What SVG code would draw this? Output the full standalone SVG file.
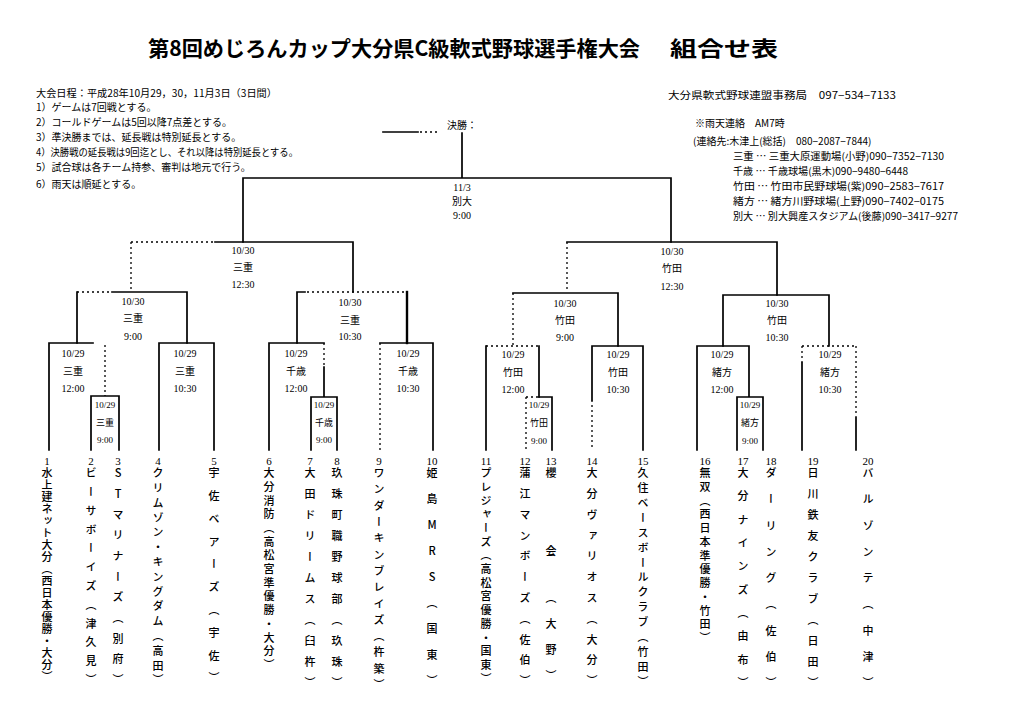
<svg xmlns="http://www.w3.org/2000/svg" width="1024" height="724" viewBox="0 0 1024 724">
<style>
.bg{fill:#fff}
.ln{stroke:#000;stroke-width:1.7;fill:none;stroke-linecap:square}
.dt{stroke:#000;stroke-width:1.3;fill:none;stroke-dasharray:2 3}
.lb{font-family:"Liberation Serif","Noto Sans CJK JP",serif;font-size:10px;text-anchor:middle;fill:#000}
.sm{font-size:9px}
.tm{font-family:"Noto Sans CJK JP",sans-serif;font-size:11px;font-weight:500;writing-mode:vertical-rl;text-orientation:upright;fill:#000}
.num{font-family:"Liberation Serif",serif;font-size:11px;text-anchor:middle;fill:#000}
.note{font-family:"Noto Sans CJK JP",sans-serif;font-size:10px;fill:#000}
.title{font-family:"Noto Sans CJK JP",sans-serif;font-size:21px;font-weight:700;fill:#000}
</style>
<rect class="bg" x="0" y="0" width="1024" height="724"/>

<g id="title">
<text class="title" x="148" y="56" textLength="492" lengthAdjust="spacingAndGlyphs">第8回めじろんカップ大分県C級軟式野球選手権大会</text>
<text class="title" x="670" y="56" textLength="108" lengthAdjust="spacingAndGlyphs">組合せ表</text>
</g>

<g id="notes">
<text class="note" x="36" y="97" textLength="241" lengthAdjust="spacingAndGlyphs">大会日程：平成28年10月29，30，11月3日（3日間）</text>
<text class="note" x="36" y="111">1）ゲームは7回戦とする。</text>
<text class="note" x="36" y="126">2）コールドゲームは5回以降7点差とする。</text>
<text class="note" x="36" y="141">3）準決勝までは、延長戦は特別延長とする。</text>
<text class="note" x="36" y="156" textLength="262" lengthAdjust="spacingAndGlyphs">4）決勝戦の延長戦は9回迄とし、それ以降は特別延長とする。</text>
<text class="note" x="36" y="171">5）試合球は各チーム持参、審判は地元で行う。</text>
<text class="note" x="36" y="188">6）雨天は順延とする。</text>
</g>

<g id="contacts">
<text class="note" x="668" y="99" textLength="228" lengthAdjust="spacingAndGlyphs">大分県軟式野球連盟事務局　097−534−7133</text>
<text class="note" x="695" y="127">※雨天連絡　AM7時</text>
<text class="note" x="693" y="145">(連絡先:木津上(総括)　080−2087−7844)</text>
<text class="note" x="733" y="160" textLength="211" lengthAdjust="spacingAndGlyphs">三重 … 三重大原運動場(小野)090−7352−7130</text>
<text class="note" x="733" y="175" textLength="175" lengthAdjust="spacingAndGlyphs">千歳 … 千歳球場(黒木)090−9480−6448</text>
<text class="note" x="733" y="190" textLength="211" lengthAdjust="spacingAndGlyphs">竹田 … 竹田市民野球場(紫)090−2583−7617</text>
<text class="note" x="733" y="205" textLength="211" lengthAdjust="spacingAndGlyphs">緒方 … 緒方川野球場(上野)090−7402−0175</text>
<text class="note" x="733" y="220" textLength="225" lengthAdjust="spacingAndGlyphs">別大 … 別大興産スタジアム(後藤)090−3417−9277</text>
</g>

<g id="connectors">
<!-- final -->
<path class="ln" d="M383 132H418"/>
<path class="dt" d="M420 132H440"/>
<path class="ln" d="M462 133V178M243 178H671M243 178V242M671 178V242"/>
<!-- left semi -->
<path class="dt" d="M131 242H215M131 242V292"/>
<path class="ln" d="M215 242H353V292"/>
<!-- left QF1 -->
<path class="dt" d="M77 292H112"/>
<path class="ln" d="M112 292H187V343M77 292V343"/>
<path class="ln" d="M49 450V343H93"/>
<path class="dt" d="M105 345V396"/>
<path class="ln" d="M91 450V396H119V450"/>
<path class="ln" d="M159 450V343H214V450"/>
<!-- left QF2 -->
<path class="ln" d="M297 343V292H305"/>
<path class="dt" d="M307 292H405"/>
<path class="ln" d="M407 292V343" style="stroke-width:2.4"/>
<path class="ln" d="M269 450V343H324"/>
<path class="dt" d="M324 343V367"/>
<path class="ln" d="M324 367V397M311 450V397H337V450"/>
<path class="ln" d="M380 343H433V450"/>
<path class="dt" d="M380 343V450"/>
<!-- right semi -->
<path class="ln" d="M567 242H777V295"/>
<path class="dt" d="M567 242V292"/>
<!-- right QF1 -->
<path class="ln" d="M513 293H618V346"/>
<path class="dt" d="M513 293V346"/>
<path class="dt" d="M486 346H539"/>
<path class="ln" d="M486 346V450M539 346V397"/>
<path class="ln" d="M539 397H552V450"/>
<path class="dt" d="M526 397H539M526 397V450"/>
<path class="ln" d="M592 346H643V450M592 346V400"/>
<path class="dt" d="M592 400V450"/>
<!-- right QF2 -->
<path class="ln" d="M723 346V295H829V346"/>
<path class="ln" d="M697 450V346H749V397M737 450V397H763V450"/>
<path class="dt" d="M802 346H856M802 346V363M856 346V415"/>
<path class="ln" d="M802 363V450M856 417V450"/>
</g>

<g id="match-final"><text class="lb" x="462" y="129" style="font-family:'Noto Sans CJK JP',sans-serif">決勝：</text><text class="lb" x="462" y="191">11/3</text><text class="lb" x="462" y="205">別大</text><text class="lb" x="462" y="219">9:00</text></g>
<g id="match-ls"><text class="lb" x="243" y="254">10/30</text><text class="lb" x="243" y="271">三重</text><text class="lb" x="243" y="288">12:30</text></g>
<g id="match-lq1"><text class="lb" x="133" y="305">10/30</text><text class="lb" x="133" y="322">三重</text><text class="lb" x="133" y="340">9:00</text></g>
<g id="match-lq2"><text class="lb" x="350" y="306">10/30</text><text class="lb" x="350" y="324">三重</text><text class="lb" x="350" y="340">10:30</text></g>
<g id="match-a"><text class="lb" x="73" y="357">10/29</text><text class="lb" x="73" y="375">三重</text><text class="lb" x="73" y="392">12:00</text></g>
<g id="match-b"><text class="lb sm" x="105" y="408">10/29</text><text class="lb sm" x="105" y="426">三重</text><text class="lb sm" x="105" y="443">9:00</text></g>
<g id="match-c"><text class="lb" x="185" y="357">10/29</text><text class="lb" x="185" y="375">三重</text><text class="lb" x="185" y="392">10:30</text></g>
<g id="match-d"><text class="lb" x="296" y="357">10/29</text><text class="lb" x="296" y="375">千歳</text><text class="lb" x="296" y="392">12:00</text></g>
<g id="match-e"><text class="lb sm" x="324" y="408">10/29</text><text class="lb sm" x="324" y="426">千歳</text><text class="lb sm" x="324" y="443">9:00</text></g>
<g id="match-f"><text class="lb" x="408" y="357">10/29</text><text class="lb" x="408" y="375">千歳</text><text class="lb" x="408" y="392">10:30</text></g>
<g id="match-rs"><text class="lb" x="672" y="255">10/30</text><text class="lb" x="672" y="272">竹田</text><text class="lb" x="672" y="290">12:30</text></g>
<g id="match-rq1"><text class="lb" x="565" y="307">10/30</text><text class="lb" x="565" y="324">竹田</text><text class="lb" x="565" y="341">9:00</text></g>
<g id="match-rq2"><text class="lb" x="777" y="307">10/30</text><text class="lb" x="777" y="324">竹田</text><text class="lb" x="777" y="341">10:30</text></g>
<g id="match-g"><text class="lb" x="513" y="358">10/29</text><text class="lb" x="513" y="376">竹田</text><text class="lb" x="513" y="393">12:00</text></g>
<g id="match-h"><text class="lb sm" x="539" y="408">10/29</text><text class="lb sm" x="539" y="426">竹田</text><text class="lb sm" x="539" y="444">9:00</text></g>
<g id="match-i"><text class="lb" x="618" y="358">10/29</text><text class="lb" x="618" y="376">竹田</text><text class="lb" x="618" y="393">10:30</text></g>
<g id="match-j"><text class="lb" x="722" y="358">10/29</text><text class="lb" x="722" y="376">緒方</text><text class="lb" x="722" y="393">12:00</text></g>
<g id="match-k"><text class="lb sm" x="750" y="408">10/29</text><text class="lb sm" x="750" y="426">緒方</text><text class="lb sm" x="750" y="444">9:00</text></g>
<g id="match-l"><text class="lb" x="830" y="358">10/29</text><text class="lb" x="830" y="376">緒方</text><text class="lb" x="830" y="393">10:30</text></g>

<g id="team-1"><text class="num" x="47" y="465">1</text><text class="tm" x="47" y="467.5" letter-spacing="1">水上建ネット大分（西日本優勝・大分）</text></g>
<g id="team-2"><text class="num" x="91" y="465">2</text><text class="tm" x="91" y="467.5" letter-spacing="7.8">ビーサボーイズ（津久見）</text></g>
<g id="team-3"><text class="num" x="118" y="465">3</text><text class="tm" x="118" y="467.5" letter-spacing="9.7">STマリナーズ（別府）</text></g>
<g id="team-4"><text class="num" x="158" y="465">4</text><text class="tm" x="158" y="467.5" letter-spacing="3.8">クリムゾン・キングダム（高田）</text></g>
<g id="team-5"><text class="num" x="214" y="465">5</text><text class="tm" x="214" y="467.5" letter-spacing="11.8">宇佐ベアーズ（宇佐）</text></g>
<g id="team-6"><text class="num" x="269" y="465">6</text><text class="tm" x="269" y="467.5" letter-spacing="2.7">大分消防（高松宮準優勝・大分）</text></g>
<g id="team-7"><text class="num" x="310" y="465">7</text><text class="tm" x="310" y="467.5" letter-spacing="10">大田ドリームス（臼杵）</text></g>
<g id="team-8"><text class="num" x="337" y="465">8</text><text class="tm" x="337" y="467.5" letter-spacing="10">玖珠町職野球部（玖珠）</text></g>
<g id="team-9"><text class="num" x="379" y="465">9</text><text class="tm" x="379" y="467.5" letter-spacing="5.3">ワンダーキンブレイズ（杵築）</text></g>
<g id="team-10"><text class="num" x="432" y="465">10</text><text class="tm" x="432" y="467.5" letter-spacing="15">姫島MRS（国東）</text></g>
<g id="team-11"><text class="num" x="486" y="465">11</text><text class="tm" x="486" y="467.5" letter-spacing="2.7">プレジャーズ（高松宮優勝・国東）</text></g>
<g id="team-12"><text class="num" x="525" y="465">12</text><text class="tm" x="525" y="467.5" letter-spacing="9.8">蒲江マンボーズ（佐伯）</text></g>
<g id="team-13"><text class="num" x="551" y="465">13</text><text class="tm" x="551" y="467.5" letter-spacing="15">櫻　　会　（大野）</text></g>
<g id="team-14"><text class="num" x="592" y="465">14</text><text class="tm" x="592" y="467.5" letter-spacing="9.8">大分ヴァリオス（大分）</text></g>
<g id="team-15"><text class="num" x="643" y="465">15</text><text class="tm" x="643" y="467.5" letter-spacing="3.9">久住ベースボールクラブ（竹田）</text></g>
<g id="team-16"><text class="num" x="705" y="465">16</text><text class="tm" x="705" y="467.5" letter-spacing="2.75">無双（西日本準優勝・竹田）</text></g>
<g id="team-17"><text class="num" x="743" y="465">17</text><text class="tm" x="743" y="467.5" letter-spacing="12.3">大分ナインズ（由布）</text></g>
<g id="team-18"><text class="num" x="771" y="465">18</text><text class="tm" x="771" y="467.5" letter-spacing="15.25">ダーリング（佐伯）</text></g>
<g id="team-19"><text class="num" x="813" y="465">19</text><text class="tm" x="813" y="467.5" letter-spacing="10">日川鉄友クラブ（日田）</text></g>
<g id="team-20"><text class="num" x="868" y="465">20</text><text class="tm" x="868" y="467.5" letter-spacing="15.25">バルゾンテ（中津）</text></g>
</svg>
